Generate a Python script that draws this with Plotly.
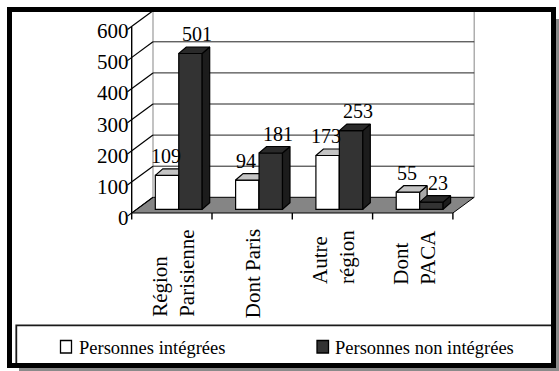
import plotly.graph_objects as go

# ---- data -------------------------------------------------------------
categories = ["Région\nParisienne", "Dont Paris", "Autre\nrégion", "Dont\nPACA"]
integrees = [109, 94, 173, 55]
non_integrees = [501, 181, 253, 23]
series_names = ["Personnes intégrées", "Personnes non intégrées"]
y_ticks = [0, 100, 200, 300, 400, 500, 600]
y_tick_text = [str(v) for v in y_ticks]

# ---- page / projection geometry (pixels) -------------------------------
W, H = 559, 371
PX_X = 80.3        # pixels per category along the floor
X0 = 131.7         # front-left corner of the floor
PX_V = 0.311       # pixels per value unit
Y0 = 209.3         # baseline of the bar plane

def dx(px):
    return (px - X0) / PX_X

def dv(py):
    return (Y0 - py) / PX_V

def xp(px):
    return px / W

def yp(py):
    return 1 - py / H

X_RANGE = [dx(0), dx(W)]
Y_RANGE = [dv(H), dv(0)]

FRONT_V = dv(213.0)          # front edge of the floor
BACK_DX = 21.3 / PX_X        # depth offset of the back wall
BACK_V = dv(197.3)           # back edge of the floor
N = len(categories)

BAR_W = 0.292
OFF_A = -0.206
OFF_B = OFF_A + BAR_W
DDX = 7.5 / PX_X             # bar depth (x)
DDV = 6.5 / PX_V             # bar depth (value)

FONT = "Liberation Serif"
LINE = dict(color="black", width=1.2)

centers = [i + 0.5 for i in range(N)]


def prism_faces(offset, values):
    sx, sy, tx, ty = [], [], [], []
    for c, v in zip(centers, values):
        xl = c + offset
        xr = xl + BAR_W
        tx += [xl, xr, xr + DDX, xl + DDX, xl, None]
        ty += [v, v, v + DDV, v + DDV, v, None]
        sx += [xr, xr + DDX, xr + DDX, xr, xr, None]
        sy += [0, DDV, v + DDV, v, 0, None]
    return sx, sy, tx, ty


fig = go.Figure()

# integrated persons: front faces, then side and top faces
fig.add_trace(go.Bar(x=centers, y=integrees, width=BAR_W, offset=OFF_A,
                     marker=dict(color="white", line=LINE),
                     xaxis="x", yaxis="y", showlegend=False, hoverinfo="skip"))
sx, sy, tx, ty = prism_faces(OFF_A, integrees)
fig.add_trace(go.Scatter(x=sx, y=sy, fill="toself", fillcolor="#a8a8a8", mode="lines",
                         line=LINE, xaxis="x", yaxis="y", showlegend=False, hoverinfo="skip"))
fig.add_trace(go.Scatter(x=tx, y=ty, fill="toself", fillcolor="#c4c4c4", mode="lines",
                         line=LINE, xaxis="x", yaxis="y", showlegend=False, hoverinfo="skip"))

# non-integrated persons on an overlaid subplot so they sit in front
fig.add_trace(go.Bar(x=centers, y=non_integrees, width=BAR_W, offset=OFF_B,
                     marker=dict(color="#333333", line=LINE),
                     xaxis="x2", yaxis="y2", showlegend=False, hoverinfo="skip"))
sx, sy, tx, ty = prism_faces(OFF_B, non_integrees)
fig.add_trace(go.Scatter(x=sx, y=sy, fill="toself", fillcolor="#1c1c1c", mode="lines",
                         line=LINE, xaxis="x2", yaxis="y2", showlegend=False, hoverinfo="skip"))
fig.add_trace(go.Scatter(x=tx, y=ty, fill="toself", fillcolor="#2a2a2a", mode="lines",
                         line=LINE, xaxis="x2", yaxis="y2", showlegend=False, hoverinfo="skip"))

# carrier for the value axis labels
fig.add_trace(go.Scatter(x=[None], y=[None], xaxis="x", yaxis="y3", showlegend=False))

shapes = []
# floor
floor_path = "M {a},{b} L {c},{b} L {d},{e} L {f},{e} Z".format(
    a=0, b=FRONT_V, c=N, d=N + BACK_DX, e=BACK_V, f=BACK_DX)
shapes.append(dict(type="path", path=floor_path, xref="x", yref="y", layer="below",
                   fillcolor="#858585", line=dict(color="black", width=1)))
# back wall edges
for xe in (BACK_DX, N + BACK_DX):
    shapes.append(dict(type="line", xref="x", yref="y", layer="below",
                       x0=xe, x1=xe, y0=BACK_V, y1=y_ticks[-1] + BACK_V,
                       line=dict(color="#9a9a9a", width=1.2)))
# back wall gridlines and side wall diagonals (with tick stubs)
for v in y_ticks:
    if v > 0:
        shapes.append(dict(type="line", xref="x", yref="y", layer="below",
                           x0=BACK_DX, x1=N + BACK_DX, y0=v + BACK_V, y1=v + BACK_V,
                           line=dict(color="#222222", width=1)))
    shapes.append(dict(type="line", xref="x", yref="y", layer="below",
                       x0=-0.2 * BACK_DX, y0=v + FRONT_V - 0.2 * (BACK_V - FRONT_V),
                       x1=BACK_DX, y1=v + BACK_V,
                       line=dict(color="black", width=1.2)))
# front value axis
shapes.append(dict(type="line", xref="x", yref="y", layer="below",
                   x0=0, x1=0, y0=FRONT_V, y1=y_ticks[-1] + FRONT_V,
                   line=dict(color="black", width=1.4)))
# category ticks
for i in range(N + 1):
    shapes.append(dict(type="line", xref="x", yref="y", layer="below",
                       x0=i, x1=i, y0=FRONT_V, y1=dv(219.5),
                       line=dict(color="black", width=1.4)))

# legend box and swatches
shapes.append(dict(type="rect", xref="paper", yref="paper", layer="above",
                   x0=xp(16.3), x1=xp(553), y0=yp(325.3), y1=yp(365),
                   fillcolor="white", line=dict(color="#1a1a1a", width=1.8)))
shapes.append(dict(type="rect", xref="paper", yref="paper", layer="above",
                   x0=xp(60.5), x1=xp(71.5), y0=yp(340.5), y1=yp(353),
                   fillcolor="white", line=dict(color="black", width=1.3)))
shapes.append(dict(type="rect", xref="paper", yref="paper", layer="above",
                   x0=xp(317), x1=xp(328.5), y0=yp(340.5), y1=yp(353),
                   fillcolor="#333333", line=dict(color="black", width=1.3)))

# page frame with drop shadow
shapes.append(dict(type="rect", xref="paper", yref="paper", layer="above",
                   x0=xp(556), x1=xp(560), y0=yp(19), y1=yp(372),
                   fillcolor="#8a8a8a", line=dict(width=0)))
shapes.append(dict(type="rect", xref="paper", yref="paper", layer="above",
                   x0=xp(19), x1=xp(560), y0=yp(368), y1=yp(372),
                   fillcolor="#8a8a8a", line=dict(width=0)))
shapes.append(dict(type="rect", xref="paper", yref="paper", layer="above",
                   x0=xp(9.5), x1=xp(553.5), y0=yp(9.5), y1=yp(365.5),
                   fillcolor="rgba(0,0,0,0)", line=dict(color="black", width=5)))

annotations = []
# value labels above the bars
for values, offset, xshift in ((integrees, OFF_A, -5), (non_integrees, OFF_B, 3)):
    for c, v in zip(centers, values):
        annotations.append(dict(x=c + offset + BAR_W / 2 + DDX / 2, y=v + DDV,
                                xref="x", yref="y", text=str(v), showarrow=False,
                                xanchor="center", yanchor="bottom", xshift=xshift,
                                font=dict(family=FONT, size=20, color="black")))
# category labels, rotated
for c, name in zip(centers, categories):
    annotations.append(dict(x=c, y=dv(227.5), xref="x", yref="y",
                            text=name.replace("\n", "<br>"), showarrow=False,
                            textangle=-90, align="left",
                            xanchor="center", yanchor="top", xshift=1,
                            font=dict(family=FONT, size=21, color="black")))
# legend texts
for name, x_px in zip(series_names, (76.5, 333)):
    annotations.append(dict(x=xp(x_px), y=yp(347.5), xref="paper", yref="paper",
                            text=name, showarrow=False, xanchor="left", yanchor="middle",
                            font=dict(family=FONT, size=18.5, color="black")))

axis_hidden = dict(visible=False, showgrid=False, zeroline=False, fixedrange=True)
label_shift = 8.2 / PX_V

fig.update_layout(
    width=W, height=H,
    margin=dict(l=0, r=0, t=0, b=0, pad=0),
    paper_bgcolor="white", plot_bgcolor="white",
    barmode="overlay",
    font=dict(family=FONT),
    xaxis=dict(range=X_RANGE, **axis_hidden),
    yaxis=dict(range=Y_RANGE, **axis_hidden),
    xaxis2=dict(range=X_RANGE, overlaying="x", **axis_hidden),
    yaxis2=dict(range=Y_RANGE, overlaying="y", **axis_hidden),
    yaxis3=dict(range=[Y_RANGE[0] + label_shift, Y_RANGE[1] + label_shift],
                overlaying="y", anchor="free", position=xp(128.5), side="left",
                tickvals=y_ticks, ticktext=y_tick_text, ticks="",
                showgrid=False, zeroline=False, showline=False, fixedrange=True,
                tickfont=dict(family=FONT, size=21, color="black")),
    shapes=shapes,
    annotations=annotations,
    showlegend=False,
)

fig.write_html("out.html")
